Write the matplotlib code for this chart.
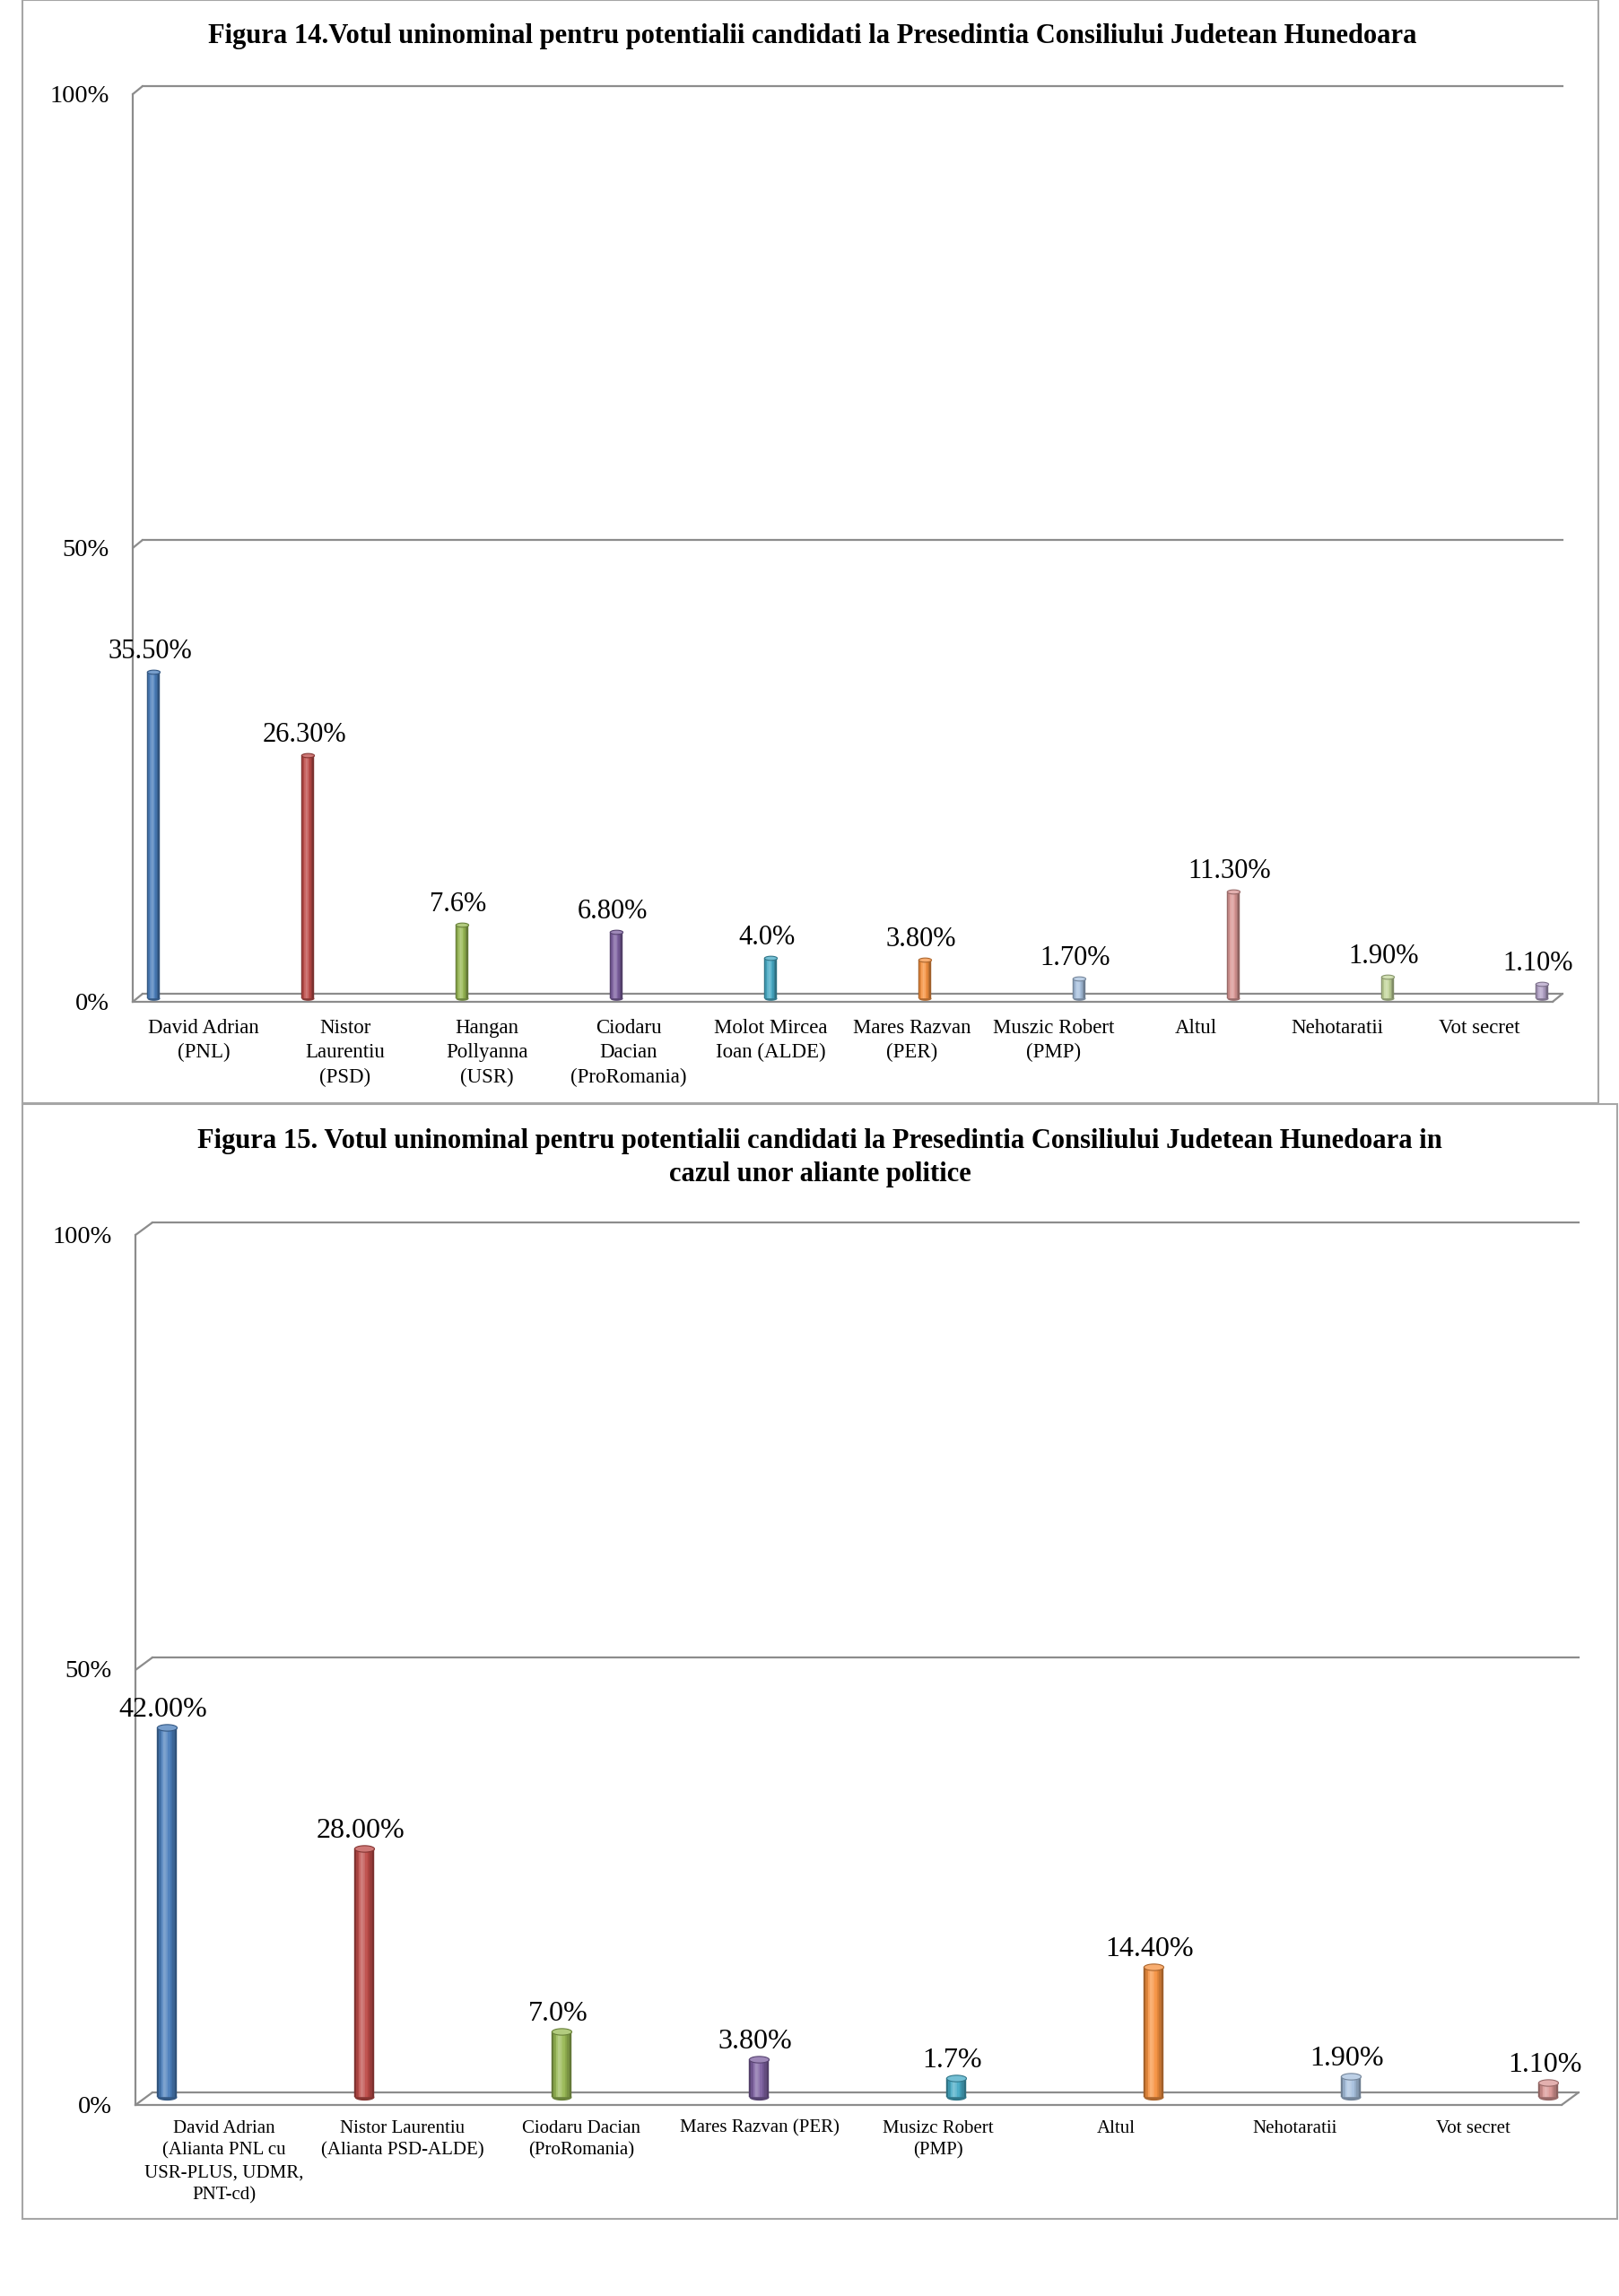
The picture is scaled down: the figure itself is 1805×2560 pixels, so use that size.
import numpy as np
import matplotlib
matplotlib.use("Agg")
import matplotlib.pyplot as plt
from matplotlib.transforms import offset_copy
from matplotlib.path import Path
from matplotlib.patches import Rectangle
from matplotlib import colors as mcolors

plt.rcParams['font.family'] = ['Liberation Serif', 'DejaVu Serif']

W, H = 1805, 2560

# ---- Figura 14 ----
title14 = "Figura 14.Votul uninominal pentru potentialii candidati la Presedintia Consiliului Judetean Hunedoara"
cat14 = ["David Adrian\n(PNL)", "Nistor\nLaurentiu\n(PSD)", "Hangan\nPollyanna\n(USR)",
         "Ciodaru\nDacian\n(ProRomania)", "Molot Mircea\nIoan (ALDE)", "Mares Razvan\n(PER)",
         "Muszic Robert\n(PMP)", "Altul", "Nehotaratii", "Vot secret"]
val14 = [35.5, 26.3, 7.6, 6.8, 4.0, 3.8, 1.7, 11.3, 1.9, 1.1]
lab14 = ["35.50%", "26.30%", "7.6%", "6.80%", "4.0%", "3.80%", "1.70%", "11.30%", "1.90%", "1.10%"]
col14 = ["#4a7ebb", "#be4b48", "#98b954", "#7d60a0", "#46aac5", "#f69240",
         "#a7c0de", "#d99694", "#c3d69b", "#b3a2c7"]

# ---- Figura 15 ----
title15 = ["Figura 15. Votul uninominal pentru potentialii candidati la Presedintia Consiliului Judetean Hunedoara in",
           "cazul unor aliante politice"]
cat15 = ["David Adrian\n(Alianta PNL cu\nUSR-PLUS, UDMR,\nPNT-cd)", "Nistor Laurentiu\n(Alianta PSD-ALDE)",
         "Ciodaru Dacian\n(ProRomania)", "Mares Razvan (PER)", "Musizc Robert\n(PMP)",
         "Altul", "Nehotaratii", "Vot secret"]
val15 = [42.0, 28.0, 7.0, 3.8, 1.7, 14.4, 1.9, 1.1]
lab15 = ["42.00%", "28.00%", "7.0%", "3.80%", "1.7%", "14.40%", "1.90%", "1.10%"]
col15 = ["#4a7ebb", "#be4b48", "#98b954", "#7d60a0", "#46aac5", "#f69240", "#a7c0de", "#d99694"]

yticks = [0, 50, 100]
yticklabels = ["0%", "50%", "100%"]

grid_c = "#8c8c8c"
box_c = "#a6a6a6"


def shade(c, f):
    r = np.array(mcolors.to_rgb(c))
    if f >= 0:
        r = r + (1 - r) * f
    else:
        r = r * (1 + f)
    return tuple(np.clip(r, 0, 1))


t = np.linspace(0, 2 * np.pi, 60)
ell = Path(np.column_stack([np.cos(t), 0.33 * np.sin(t)]))
profile = [-0.35, -0.12, 0.12, 0.28, 0.2, 0.05, -0.08, -0.2, -0.35]


def px_axes(fig, left, right, top, bottom):
    return fig.add_axes([left / W, 1 - bottom / H, (right - left) / W, (bottom - top) / H])


def chart(fig, rect, x0, dx, lab_x0, lab_dx, depth, cats, vals, labs, cols,
          bw, cat_size, lab_size, tick_pad, lab_dy, lsp):
    left, right, top, bottom = rect
    ax = px_axes(fig, left, right, top, bottom)
    n = len(vals)
    xmin = (left - x0) / dx
    xmax = (right - x0) / dx
    ax.set_xlim(xmin, xmax)
    ax.set_ylim(0, 100)
    for s in ax.spines.values():
        s.set_visible(False)
    ax.set_yticks([])
    ax.patch.set_alpha(0)

    front = offset_copy(ax.transData, fig=fig, x=-depth[0], y=-depth[1], units='dots')
    lw = 1.6
    # back gridlines and floor
    for yv in yticks:
        ax.plot([xmin, xmax], [yv, yv], color=grid_c, lw=lw, zorder=1, clip_on=False)
    # left wall diagonals
    for yv in yticks:
        ax.annotate("", xy=(xmin, yv), xycoords='data', xytext=(xmin, yv), textcoords=front,
                    arrowprops=dict(arrowstyle='-', color=grid_c, lw=lw, shrinkA=0, shrinkB=0))
    # front vertical axis and front floor edge
    ax.plot([xmin, xmin], [0, 100], color=grid_c, lw=lw, transform=front, clip_on=False)
    ax.plot([xmin, xmax], [0, 0], color=grid_c, lw=lw, transform=front, clip_on=False)
    ax.annotate("", xy=(xmax, 0), xycoords='data', xytext=(xmax, 0), textcoords=front,
                arrowprops=dict(arrowstyle='-', color=grid_c, lw=lw, shrinkA=0, shrinkB=0))

    # y tick labels on the front plane
    tr = offset_copy(ax.transData, fig=fig, x=-depth[0] - 26, y=-depth[1] - 2, units='dots')
    for yv, yl in zip(yticks, yticklabels):
        ax.text(xmin, yv, yl, transform=tr, ha='right', va='center', fontsize=20.5, color='black')

    # cylinders
    base = -0.5
    sw = bw / len(profile)
    ms = bw * dx * 0.72
    for i, (v, c) in enumerate(zip(vals, cols)):
        ax.scatter([i], [base], s=ms ** 2, marker=ell, color=shade(c, -0.3), linewidths=0, zorder=2.9, clip_on=False)
        for k, f in enumerate(profile):
            cc = shade(c, f)
            ax.bar(i - bw / 2 + (k + 0.5) * sw, v - base, bottom=base, width=sw * 1.02,
                   color=cc, edgecolor=cc, linewidth=0.3, zorder=3, clip_on=False)
        ax.scatter([i], [v], s=ms ** 2, marker=ell, color=shade(c, 0.25),
                   edgecolors=[shade(c, -0.3)], linewidths=0.8, zorder=4, clip_on=False)

    # value labels
    tl = offset_copy(ax.transData, fig=fig, x=-4, y=lab_dy, units='dots')
    for i, (v, s) in enumerate(zip(vals, labs)):
        ax.text(i, v, s, transform=tl, ha='center', va='baseline', fontsize=lab_size, zorder=5)

    # category labels (front, perspective spacing)
    ax.set_xticks([(lab_x0 - x0) / dx + (lab_dx / dx) * i for i in range(n)])
    ax.set_xticklabels(cats, fontsize=cat_size, linespacing=lsp)
    ax.tick_params(axis='x', length=0, pad=tick_pad)
    return ax


fig = plt.figure(figsize=(W / 100, H / 100), dpi=100)
fig.patch.set_facecolor('white')

# outer frames
fig.add_artist(Rectangle((25 / W, 1 - 1230 / H), (1782 - 25) / W, 1230 / H, transform=fig.transFigure,
                         fill=False, edgecolor=box_c, lw=1.5))
fig.add_artist(Rectangle((25 / W, 1 - 2474 / H), (1803 - 25) / W, (2474 - 1231) / H, transform=fig.transFigure,
                         fill=False, edgecolor=box_c, lw=1.5))

fig.text(906 / W, 1 - 48 / H, title14, ha='center', va='baseline', fontsize=22, fontweight='bold')
fig.text(914 / W, 1 - 1280 / H, title15[0], ha='center', va='baseline', fontsize=22, fontweight='bold')
fig.text(914 / W, 1 - 1317 / H, title15[1], ha='center', va='baseline', fontsize=22, fontweight='bold')

chart(fig, (159, 1742, 96, 1108), 171, 172, 227, 158, (11, 9), cat14, val14, lab14, col14,
      0.082, 16.5, 22, 20, 15, 1.4)
chart(fig, (170, 1760, 1363, 2333), 186, 220, 250, 198.9, (19, 14), cat15, val15, lab15, col15,
      0.1, 15, 23, 22, 12, 1.4)

fig.savefig("out.png", dpi=100, facecolor='white')
